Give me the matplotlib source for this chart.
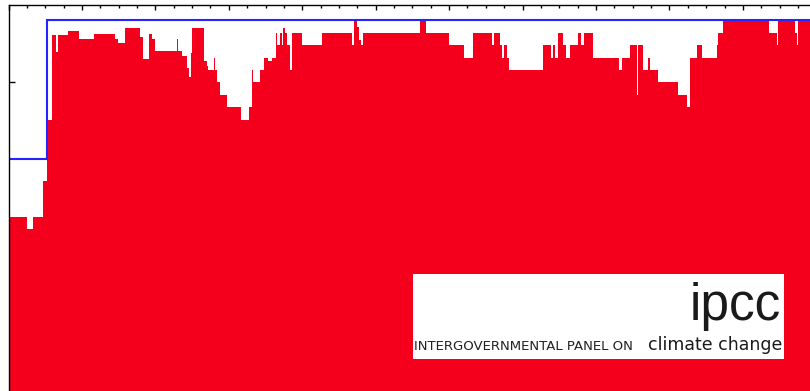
import matplotlib
matplotlib.use("Agg")
import matplotlib.pyplot as plt
from matplotlib.patches import Rectangle
import numpy as np

# ---------------- data ----------------
# step edges (x units; major tick every 20) and step heights of the red series
red_edges = [0, 4.96, 6.75, 9.31, 9.48, 10.48, 11.76, 13.07, 13.43, 16.29,
             19.28, 23.37, 29.00, 29.90, 31.73, 32.63, 35.81, 36.55, 38.34, 39.00,
             39.90, 45.97, 46.24, 47.17, 48.53, 49.16, 49.70, 50.05, 53.32, 53.98,
             54.25, 55.96, 56.24, 56.70, 57.60, 59.59, 63.32, 65.58, 66.39, 66.67,
             68.49, 69.66, 70.75, 71.84, 72.77, 73.04, 73.94, 74.40, 74.84, 75.30,
             75.76, 76.66, 77.29, 80.01, 85.46, 93.63, 94.17, 94.99, 95.53, 96.00,
             96.46, 112.06, 113.83, 120.04, 124.13, 126.42, 131.59, 132.30, 133.85, 134.31,
             134.86, 135.68, 136.38, 145.64, 147.74, 148.37, 148.83, 149.73, 150.93, 151.74,
             152.91, 155.01, 155.83, 156.81, 159.26, 166.34, 166.99, 169.25, 171.08, 171.35,
             172.71, 174.24, 174.78, 176.96, 182.41, 184.78, 185.59, 187.50, 188.78, 193.03,
             193.30, 194.66, 207.19, 209.20, 209.64, 214.19, 214.81, 215.09, 230.0]
red_values = [14.14, 13.17, 14.14, 16.23, 17.04, 21.96, 28.81, 27.44, 28.81, 29.14,
              28.49, 28.87, 28.47, 28.15, 29.35, 29.40, 28.63, 26.88, 28.87, 28.47,
              27.52, 28.47, 27.52, 27.15, 26.13, 25.40, 27.34, 29.35, 26.72, 26.34,
              26, 27, 26, 25, 24, 23, 22, 23, 26, 25,
              26, 27, 26.72, 27, 29, 28, 29, 28, 29.35, 29,
              28, 26, 29, 28, 29, 28, 30, 29.5, 28.4, 28,
              29, 30, 29, 28, 27, 29, 28, 29, 28, 27,
              28, 27, 26, 28, 27, 28, 27, 29, 28, 27,
              28, 29, 28, 29, 27, 26, 27, 28, 24, 28,
              26, 27, 26, 25, 24, 23, 27, 28, 27, 28,
              29, 30, 29, 28, 30, 29, 28, 30]

blue_edges = [0, 10.62, 230.0]
blue_values = [18.8, 30]

x_major = np.arange(0, 231, 20)
x_minor = np.arange(0, 231, 5)
y_major = [0, 25]

logo_big = "ipcc"
logo_left = "INTERGOVERNMENTAL PANEL ON"
logo_right = "climate change"

# ---------------- figure ----------------
W, H = 810, 391
fig = plt.figure(figsize=(W / 100, H / 100), dpi=100)
fig.patch.set_facecolor("white")

px_per_x = 3.672
x_max = 230.0
left_px, top_px = 8.5, 4.7
y_top = 31.26
y0_px = 392.3  # pixel row (from top) of value 0
ax = fig.add_axes([left_px / W, (H - y0_px) / H,
                   x_max * px_per_x / W, (y0_px - top_px) / H])
ax.set_xlim(0, x_max)
ax.set_ylim(0, y_top)

ax.stairs(red_values, red_edges, fill=True, baseline=0,
          color="#F5001C", linewidth=0, zorder=1)
ax.stairs(blue_values, blue_edges, baseline=None, fill=False,
          color="#2424FF", linewidth=1.5, zorder=3)

for s in ["right", "bottom"]:
    ax.spines[s].set_visible(False)
for s in ["top", "left"]:
    ax.spines[s].set_linewidth(1.0)
    ax.spines[s].set_color("black")
    ax.spines[s].set_zorder(4)

ax.xaxis.set_ticks_position("top")
ax.set_xticks(x_major)
ax.set_xticks(x_minor, minor=True)
ax.set_yticks(y_major)
ax.tick_params(axis="x", which="major", direction="in", length=3.8, width=1.0,
               labeltop=False, labelbottom=False)
ax.tick_params(axis="x", which="minor", direction="in", length=2.0, width=1.0)
ax.tick_params(axis="y", which="major", direction="in", length=4.2, width=1.0,
               labelleft=False)
ax.set_facecolor("white")

# ---------------- IPCC logo box ----------------
def fx(px):
    return px / W

def fy(py):
    return 1 - py / H

box = Rectangle((fx(413.3), fy(359.3)), fx(784) - fx(413.3), fy(274) - fy(359.3),
                transform=fig.transFigure, facecolor="white", edgecolor="none",
                zorder=10)
fig.add_artist(box)
fig.text(fx(781), fy(320), logo_big, ha="right", va="baseline",
         fontsize=37, family=["Liberation Sans", "DejaVu Sans"], color="#1a1a1a",
         zorder=11)
fig.text(fx(414), fy(350), logo_left, ha="left", va="baseline",
         fontsize=9.5, family=["DejaVu Sans"], color="#222222", zorder=11)
fig.text(fx(782.5), fy(350), logo_right, ha="right", va="baseline",
         fontsize=12.5, family=["DejaVu Sans"], color="#1a1a1a", zorder=11)

fig.savefig("out.png", dpi=100)
